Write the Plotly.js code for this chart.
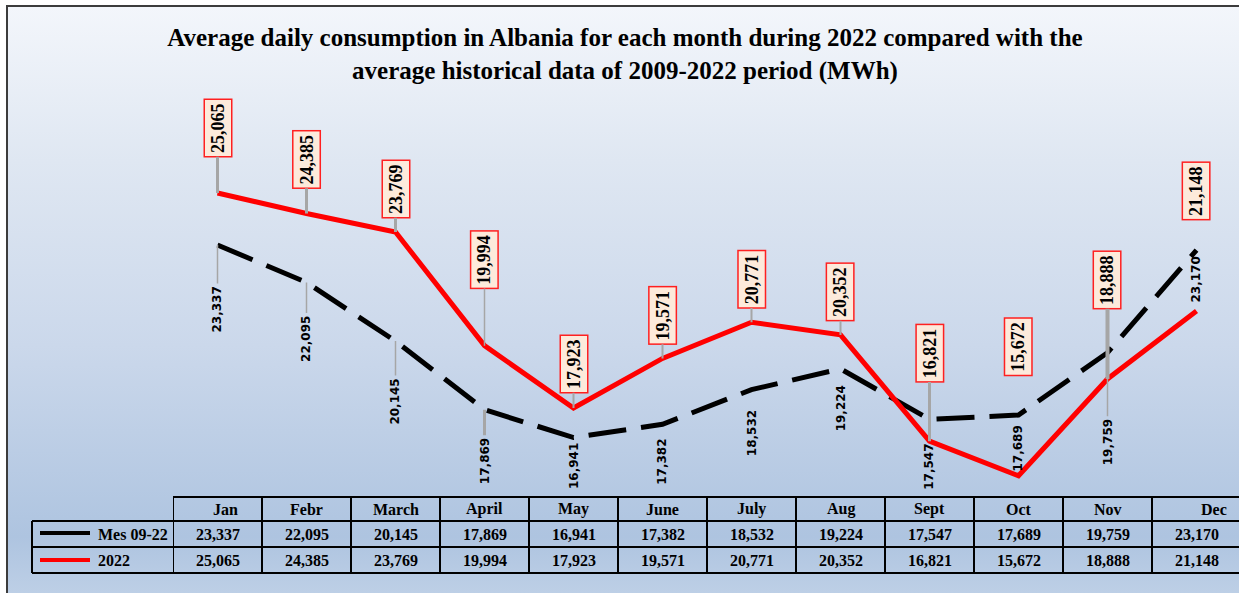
<!DOCTYPE html>
<html>
<head>
<meta charset="utf-8">
<script src="https://cdn.plot.ly/plotly-3.0.1.min.js"></script>
<style>
  html, body { margin: 0; padding: 0; background: #ffffff; overflow: hidden; }
  #frame {
    position: absolute; left: 6px; top: 5px; width: 1260px; height: 620px;
    border: 2px solid #3c3c3c; box-sizing: border-box;
    background: linear-gradient(to bottom, #f3f6fb 0%, #dfe7f2 25%, #cbd8eb 55%, #aec4e0 86%, #c5d5e9 100%);
  }
  #chart { position: absolute; left: 0; top: 0; width: 1239px; height: 593px; }
</style>
</head>
<body>
<div id="frame"></div>
<div id="chart"></div>
<script>
// ---- data ----
const months = ["Jan", "Febr", "March", "April", "May", "June", "July", "Aug", "Sept", "Oct", "Nov", "Dec"];
const histName = "Mes 09-22";
const curName = "2022";
const histValues = [23337, 22095, 20145, 17869, 16941, 17382, 18532, 19224, 17547, 17689, 19759, 23170];
const curValues = [25065, 24385, 23769, 19994, 17923, 19571, 20771, 20352, 16821, 15672, 18888, 21148];
const titleText = "Average daily consumption in Albania for each month during 2022 compared with the<br>average historical data of 2009-2022 period (MWh)";

// ---- label placement (pixel offsets of labels from their points) ----
const curLabelOffset = [-65, -54, -43, -86, -44, -43, -43, -43, -88, -129, -99, -120];
const curLeaderShown = [true, true, true, true, true, true, true, true, true, false, true, false];
const curLeaderWidth = [3, 3, 3, 1.5, 2, 2, 2, 2, 3, 0, 4, 0];
const histLabelOffset = [65, 57, 61, 52, 29, 38, 44, 40, 48, 34, 90, 30];
const histLeaderWidth = [1.5, 1.5, 1.5, 3, 0, 0, 0, 0, 0, 0, 1.5, 0];
const headerShift = [8, 0, 0, 0, 0, 0, 0, 0, 0, 0, 0, 17];

// ---- geometry (pixels) ----
const FW = 1239, FH = 593;
const L = 173, T = 100, B = 497;
const W = FW - L, H = B - T;
const colW = 89;
const px2x = px => (px - L) / W;
const py2y = py => (B - py) / H;
const fmt = v => v.toLocaleString("en-US");

const xIdx = months.map((m, i) => i);
const yPerPx = (curValues[0] - curValues[4]) / (408 - 193);
const yTop = curValues[0] + (193 - T) * yPerPx;
const yBot = curValues[0] - (B - 193) * yPerPx;

const traces = [
  { x: xIdx, y: histValues, type: "scatter", mode: "lines", name: histName,
    line: { color: "#000000", width: 5, dash: "38px,15px" }, hoverinfo: "skip" },
  { x: xIdx, y: curValues, type: "scatter", mode: "lines", name: curName,
    line: { color: "#ff0000", width: 5 }, hoverinfo: "skip" }
];

const annotations = [];
const serif = "'Liberation Serif', 'Times New Roman', serif";

// black (historical) labels
histValues.forEach((v, i) => {
  annotations.push({
    x: i, y: v, xref: "x", yref: "y", text: fmt(v), textangle: -90,
    showarrow: true, arrowhead: 0, arrowwidth: histLeaderWidth[i] || 0.01,
    arrowcolor: histLeaderWidth[i] ? "#a6a6a6" : "rgba(0,0,0,0)",
    ax: 0, ay: histLabelOffset[i], standoff: 0, borderpad: 3,
    font: { family: "'DejaVu Sans', sans-serif", size: 12, color: "#000000", weight: "bold" }
  });
});
// red (2022) labels
curValues.forEach((v, i) => {
  annotations.push({
    x: i, y: v, xref: "x", yref: "y", text: fmt(v), textangle: -90,
    showarrow: true, arrowhead: 0, arrowwidth: curLeaderShown[i] ? curLeaderWidth[i] : 0.01,
    arrowcolor: curLeaderShown[i] ? "#a6a6a6" : "rgba(0,0,0,0)",
    ax: 0, ay: curLabelOffset[i], standoff: 0, borderpad: 3,
    bgcolor: "#fdeadb", bordercolor: "#ff2020", borderwidth: 1.5,
    font: { family: serif, size: 18, color: "#000000", weight: "bold" }
  });
});

// data table
const rowTop = 497, row1 = 521, row2 = 547, row3 = 573;
const tableFont = { family: serif, size: 16, color: "#000000", weight: "bold" };
months.forEach((m, i) => {
  annotations.push({ x: i, y: py2y((rowTop + row1) / 2), xref: "x", yref: "paper",
    text: m, showarrow: false, font: tableFont, yanchor: "middle", xshift: headerShift[i] });
  annotations.push({ x: i, y: py2y((row1 + row2) / 2), xref: "x", yref: "paper",
    text: fmt(histValues[i]), showarrow: false, font: tableFont, yanchor: "middle" });
  annotations.push({ x: i, y: py2y((row2 + row3) / 2), xref: "x", yref: "paper",
    text: fmt(curValues[i]), showarrow: false, font: tableFont, yanchor: "middle" });
});
annotations.push({ x: px2x(96), y: py2y((row1 + row2) / 2), xref: "paper", yref: "paper",
  text: histName, showarrow: false, font: tableFont, xanchor: "left", yanchor: "middle" });
annotations.push({ x: px2x(96), y: py2y((row2 + row3) / 2), xref: "paper", yref: "paper",
  text: curName, showarrow: false, font: tableFont, xanchor: "left", yanchor: "middle" });

const shapes = [];
const tl = { color: "#000000", width: 2 };
shapes.push({ type: "line", xref: "paper", yref: "paper", x0: px2x(L), x1: px2x(FW + 5), y0: py2y(rowTop), y1: py2y(rowTop), line: tl });
[row1, row2, row3].forEach(r => {
  shapes.push({ type: "line", xref: "paper", yref: "paper", x0: px2x(32), x1: px2x(FW + 5), y0: py2y(r), y1: py2y(r), line: tl });
});
shapes.push({ type: "line", xref: "paper", yref: "paper", x0: px2x(32), x1: px2x(32), y0: py2y(row1), y1: py2y(row3), line: tl });
for (let i = 0; i <= months.length; i++) {
  shapes.push({ type: "line", xref: "x", yref: "paper", x0: i - 0.5, x1: i - 0.5, y0: py2y(rowTop), y1: py2y(row3), line: tl });
}
// legend keys
shapes.push({ type: "line", xref: "paper", yref: "paper", x0: px2x(40), x1: px2x(90), y0: py2y(533), y1: py2y(533), line: { color: "#000000", width: 4 } });
shapes.push({ type: "line", xref: "paper", yref: "paper", x0: px2x(40), x1: px2x(90), y0: py2y(560), y1: py2y(560), line: { color: "#ff0000", width: 4 } });

const layout = {
  width: FW, height: FH,
  margin: { l: L, r: 0, t: T, b: FH - B, pad: 0 },
  paper_bgcolor: "rgba(0,0,0,0)", plot_bgcolor: "rgba(0,0,0,0)",
  showlegend: false,
  title: { text: titleText, xref: "container", yref: "container", x: 625 / FW, xanchor: "center",
    y: 1 - 46 / FH, yanchor: "top",
    font: { family: serif, size: 25, color: "#000000", weight: "bold" } },
  xaxis: { range: [-0.5, -0.5 + W / colW], visible: false, fixedrange: true },
  yaxis: { range: [yBot, yTop], visible: false, fixedrange: true },
  annotations: annotations,
  shapes: shapes
};

Plotly.newPlot("chart", traces, layout, { staticPlot: true, displayModeBar: false });
</script>
</body>
</html>
